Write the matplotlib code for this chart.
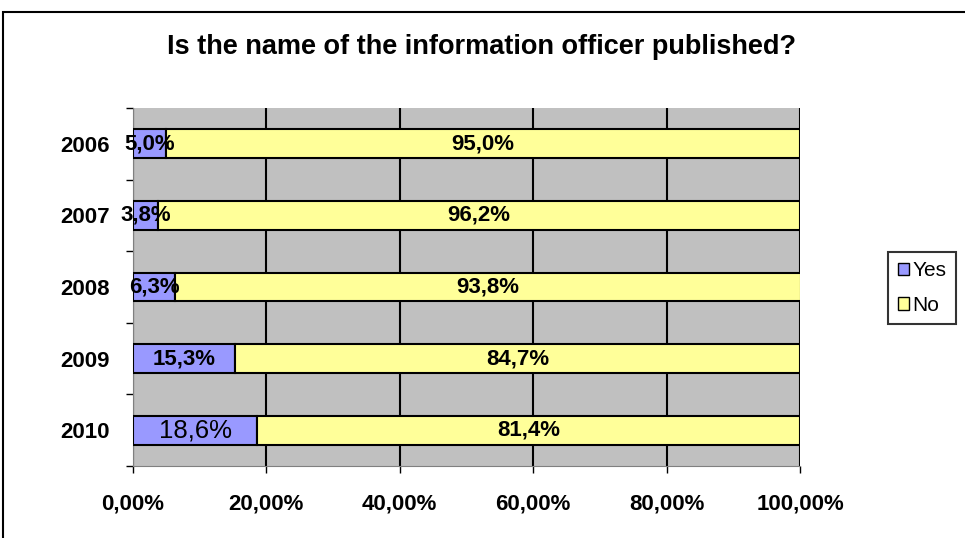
import numpy as np
import matplotlib.pyplot as plt
from matplotlib.patches import Rectangle, Patch

# data
years = ["2006", "2007", "2008", "2009", "2010"]
yes = [5.0, 3.8, 6.3, 15.3, 18.6]
no = [95.0, 96.2, 93.8, 84.7, 81.4]
xticks = [0, 20, 40, 60, 80, 100]
xtick_labels = ["0,00%", "20,00%", "40,00%", "60,00%", "80,00%", "100,00%"]

plt.rcParams["font.family"] = ["Liberation Sans", "DejaVu Sans"]

fig = plt.figure(figsize=(9.65, 5.38), dpi=100)
# outer chart frame (bottom and right run off the picture)
fig.patches.append(Rectangle((3 / 965, -0.1), 1, 1.1 - 12 / 538, transform=fig.transFigure,
                             fill=False, edgecolor="black", linewidth=1.5, zorder=0))

ax = fig.add_axes([133 / 965, 72 / 538, 667 / 965, 358 / 538])
ax.set_facecolor("#C0C0C0")

y = np.arange(len(years))
h = 0.4
ax.barh(y, yes, height=h, color="#9999FF", edgecolor="black", linewidth=1.5, zorder=3, label="Yes")
ax.barh(y, no, left=yes, height=h, color="#FFFF99", edgecolor="black", linewidth=1.5, zorder=3, label="No")

for i in range(len(years)):
    ys = f"{yes[i]:.1f}%".replace(".", ",")
    ns = f"{no[i]:.1f}%".replace(".", ",")
    if years[i] == "2010":
        ax.text(yes[i] / 2, y[i], ys, ha="center", va="center", fontsize=18.5, zorder=5)
    else:
        ax.text(yes[i] / 2, y[i], ys, ha="center", va="center", fontsize=16,
                fontweight="bold", zorder=5)
    ax.text(yes[i] + no[i] / 2, y[i], ns, ha="center", va="center", fontsize=16,
            fontweight="bold", zorder=5)

ax.set_xlim(0, 100)
ax.set_ylim(len(years) - 0.5, -0.5)
ax.set_xticks(xticks)
ax.set_xticklabels(xtick_labels, fontsize=16, fontweight="bold")
ax.set_yticks(y)
ax.set_yticklabels(years, fontsize=16, fontweight="bold")
ax.set_yticks(np.arange(-0.5, len(years), 1), minor=True)
ax.tick_params(axis="y", which="major", length=0, pad=17)
ax.tick_params(axis="y", which="minor", length=5, width=1, color="black")
ax.tick_params(axis="x", length=5, width=1, pad=15)
ax.grid(axis="x", color="black", linewidth=1.5, zorder=1)
ax.set_axisbelow(True)
for s in ["top", "right"]:
    ax.spines[s].set_visible(False)
for s in ["left", "bottom"]:
    ax.spines[s].set_color("#808080")

fig.text(481.5 / 965, 1 - 47 / 538, "Is the name of the information officer published?",
         ha="center", va="center", fontsize=19.5, fontweight="bold")

handles = [Patch(facecolor="#9999FF", edgecolor="black", label="Yes"),
           Patch(facecolor="#FFFF99", edgecolor="black", label="No")]
leg = fig.legend(handles=handles, loc="center", bbox_to_anchor=(922 / 965, 1 - 288 / 538),
                 fontsize=15, frameon=True, fancybox=False, edgecolor="black",
                 handlelength=0.55, handleheight=0.55, handletextpad=0.15,
                 borderpad=0.45, labelspacing=0.75, borderaxespad=0)
leg.get_frame().set_linewidth(1.5)

fig.savefig("out.png", dpi=100)
